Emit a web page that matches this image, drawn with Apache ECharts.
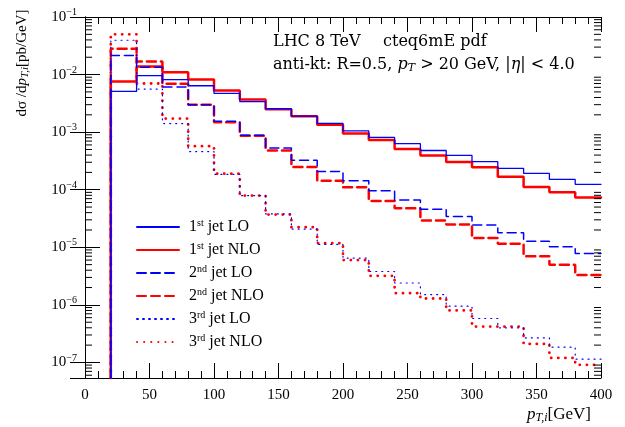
<!DOCTYPE html>
<html>
<head>
<meta charset="utf-8">
<script src="https://cdn.jsdelivr.net/npm/echarts@6/dist/echarts.min.js"></script>
<style>
html, body { margin: 0; padding: 0; background: #fff; }
#chart { width: 625px; height: 427px; }
</style>
</head>
<body>
<div id="chart"></div>
<script>
// bin lower edges (GeV), each bin is 20 GeV wide
const binStarts = [20, 40, 60, 80, 100, 120, 140, 160, 180, 200, 220, 240, 260, 280, 300, 320, 340, 360, 380];
const binEnd = 400;

const jet1LO  = [5.1e-3, 9.6e-3, 8.2e-3, 6.4e-3, 4.7e-3, 3.4e-3, 2.55e-3, 1.9e-3, 1.42e-3, 1.05e-3, 8.1e-4, 6.3e-4, 4.8e-4, 3.95e-4, 3.07e-4, 2.35e-4, 1.92e-4, 1.51e-4, 1.24e-4];
const jet1NLO = [7.6e-3, 1.38e-2, 1.1e-2, 8.2e-3, 5.3e-3, 3.7e-3, 2.5e-3, 1.88e-3, 1.35e-3, 9.5e-4, 7.3e-4, 5.1e-4, 3.95e-4, 3.03e-4, 2.45e-4, 1.68e-4, 1.11e-4, 9.0e-5, 7.3e-5];
const jet2LO  = [2.14e-2, 1.34e-2, 6.1e-3, 3.0e-3, 1.54e-3, 8.8e-4, 5.3e-4, 3.24e-4, 2.08e-4, 1.43e-4, 9.6e-5, 6.6e-5, 4.6e-5, 3.43e-5, 2.43e-5, 1.79e-5, 1.28e-5, 1.02e-5, 7.8e-6];
const jet2NLO = [2.8e-2, 1.68e-2, 6.9e-3, 3.0e-3, 1.48e-3, 8.7e-4, 4.8e-4, 2.48e-4, 1.43e-4, 1.1e-4, 6.4e-5, 4.77e-5, 2.92e-5, 2.49e-5, 1.45e-5, 1.15e-5, 7.0e-6, 5.0e-6, 3.3e-6];
const jet3LO  = [3.95e-2, 5.6e-3, 1.41e-3, 4.6e-4, 1.85e-4, 7.9e-5, 3.8e-5, 2.07e-5, 1.12e-5, 6.5e-6, 3.8e-6, 2.4e-6, 1.51e-6, 9.5e-7, 5.8e-7, 4.0e-7, 2.67e-7, 1.84e-7, 1.14e-7];
const jet3NLO = [5.0e-2, 7.0e-3, 1.72e-3, 5.7e-4, 1.9e-4, 7.9e-5, 3.7e-5, 2.24e-5, 1.18e-5, 6.0e-6, 3.2e-6, 1.6e-6, 1.29e-6, 8.0e-7, 4.2e-7, 4.2e-7, 2.1e-7, 1.2e-7, 9.1e-8];

const seriesNames = ['1st jet LO', '1st jet NLO', '2nd jet LO', '2nd jet NLO', '3rd jet LO', '3rd jet NLO'];

const yMin = 5.37e-8;
const yMax = 0.1;

const serif = 'Liberation Serif';
const wideSerif = 'DejaVu Serif';
const blue = '#0000ff';
const red = '#ff0000';

// histogram outline: starts at the bottom of the plot, steps over each bin
function stepData(vals) {
    const d = [[binStarts[0], yMin]];
    binStarts.forEach((x, i) => d.push([x, vals[i]]));
    d.push([binEnd, vals[vals.length - 1]]);
    return d;
}

// log minor ticks 2..9 x 10^k inside the axis range
const minorVals = [];
for (let k = -8; k <= -2; k++) {
    for (let m = 2; m <= 9; m++) {
        const v = m * Math.pow(10, k);
        if (v > yMin && v < yMax) minorVals.push([0, v]);
    }
}

function line(name, vals, color, width, type, z) {
    return {
        name: name,
        type: 'line',
        step: 'end',
        symbol: 'none',
        data: stepData(vals),
        lineStyle: { color: color, width: width, type: type, cap: 'round' },
        itemStyle: { color: color },
        z: z,
        clip: true
    };
}

function mathRich(family, size) {
    return {
        n: { fontFamily: family, fontSize: size, fill: '#000' },
        i: { fontFamily: family, fontSize: size, fontStyle: 'italic', fill: '#000' },
        b: { fontFamily: family, fontSize: Math.round(size * 0.7), fontStyle: 'italic', fill: '#000', padding: [7, 0, 0, 0] }
    };
}

const chart = echarts.init(document.getElementById('chart'));

const supRich = {
    n: { fontFamily: serif, fontSize: 15, color: '#000' },
    s: { fontFamily: serif, fontSize: 10, color: '#000', padding: [0, 0, 9, 0] }
};

const xAxisBase = {
    type: 'value',
    min: 0,
    max: 400,
    interval: 50,
    axisLine: { lineStyle: { color: '#000', width: 1 } },
    axisTick: { inside: true, length: 15, lineStyle: { color: '#000' } },
    minorTick: { show: true, splitNumber: 5, length: 7, lineStyle: { color: '#000' } },
    splitLine: { show: false }
};

const yAxisBase = {
    type: 'log',
    logBase: 10,
    min: yMin,
    max: yMax,
    axisLine: { show: true, lineStyle: { color: '#000', width: 1 } },
    axisTick: { inside: true, length: 15, lineStyle: { color: '#000' } },
    splitLine: { show: false }
};

const option = {
    animation: false,
    backgroundColor: '#fff',
    grid: { left: 85, right: 24, top: 17, bottom: 49 },
    xAxis: [
        Object.assign({}, xAxisBase, {
            position: 'bottom',
            axisLabel: { fontFamily: serif, fontSize: 15, color: '#000', margin: 10 }
        }),
        Object.assign({}, xAxisBase, { position: 'top', axisLabel: { show: false } })
    ],
    yAxis: [
        Object.assign({}, yAxisBase, {
            position: 'left',
            axisLabel: {
                margin: 8,
                formatter: function (v) {
                    const e = Math.round(Math.log10(v));
                    if (Math.abs(Math.log10(v) - e) > 1e-6) return '';
                    return '{n|10}{s|\u2212' + Math.abs(e) + '}';
                },
                rich: supRich
            }
        }),
        Object.assign({}, yAxisBase, { position: 'right', axisLabel: { show: false } })
    ],
    legend: {
        orient: 'vertical',
        left: 136,
        top: 218,
        padding: 0,
        itemWidth: 42,
        itemHeight: 14,
        itemGap: 5,
        data: seriesNames,
        itemStyle: { opacity: 0 },
        formatter: function (name) {
            const m = name.match(/^(\d)(st|nd|rd) (.*)$/);
            return '{n|' + m[1] + '}{s|' + m[2] + '}{n| ' + m[3] + '}';
        },
        textStyle: {
            rich: {
                n: { fontFamily: serif, fontSize: 16, lineHeight: 16, color: '#000' },
                s: { fontFamily: serif, fontSize: 10, lineHeight: 8, color: '#000', padding: [0, 0, 8, 0] }
            },
            padding: [0, 0, 0, 5]
        }
    },
    graphic: [
        {
            type: 'text', left: 273, top: 34,
            style: { text: 'LHC 8 TeV', fontFamily: wideSerif, fontSize: 16, fill: '#000' }
        },
        {
            type: 'text', left: 383, top: 34,
            style: { text: 'cteq6mE pdf', fontFamily: wideSerif, fontSize: 16, fill: '#000' }
        },
        {
            type: 'text', left: 273, top: 57,
            style: {
                text: '{n|anti-kt: R=0.5, }{i|p}{b|T}{n| > 20 GeV, |}{i|\u03b7}{n|| < 4.0}',
                rich: mathRich(wideSerif, 16)
            }
        },
        {
            type: 'text', x: 22, y: 63, rotation: Math.PI / 2,
            style: {
                text: '{n|d\u03c3 /d}{i|p}{b|T,i}{n|[pb/GeV]}',
                align: 'center', verticalAlign: 'middle',
                rich: mathRich(serif, 15)
            }
        },
        {
            type: 'text', right: 34, top: 406,
            style: {
                text: '{i|p}{b|T,i}{n|[GeV]}',
                rich: mathRich(serif, 17)
            }
        }
    ],
    series: [
        line(seriesNames[0], jet1LO, blue, 1.3, 'solid', 6),
        line(seriesNames[1], jet1NLO, red, 2.5, 'solid', 3),
        line(seriesNames[2], jet2LO, blue, 1.5, [9, 5], 5),
        line(seriesNames[3], jet2NLO, red, 2.5, [9, 5], 2),
        line(seriesNames[4], jet3LO, blue, 1.2, [1, 5], 4),
        line(seriesNames[5], jet3NLO, red, 2.8, [0.1, 7], 1),
        {
            type: 'custom',
            silent: true,
            clip: false,
            z: 10,
            data: minorVals,
            encode: { x: 0, y: 1 },
            renderItem: function (params, api) {
                const v = api.value(1);
                const l = api.coord([0, v]);
                const r = api.coord([400, v]);
                const st = { stroke: '#000', lineWidth: 1 };
                return {
                    type: 'group',
                    children: [
                        { type: 'line', shape: { x1: l[0], y1: l[1], x2: l[0] + 7, y2: l[1] }, style: st },
                        { type: 'line', shape: { x1: r[0] - 7, y1: r[1], x2: r[0], y2: r[1] }, style: st }
                    ]
                };
            }
        }
    ]
};

chart.setOption(option);
</script>
</body>
</html>
